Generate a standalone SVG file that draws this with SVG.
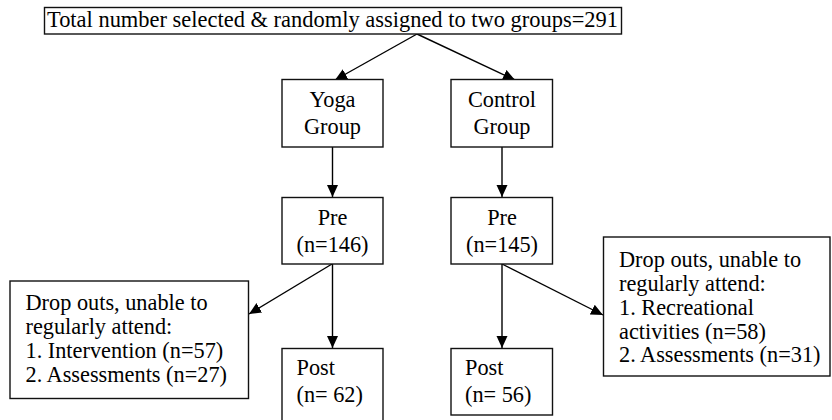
<svg xmlns="http://www.w3.org/2000/svg" width="832" height="420" viewBox="0 0 832 420">
<defs>
<style>
.box{fill:#fff;stroke:#111;stroke-width:1.4}
.ln{stroke:#000;stroke-width:1.4;fill:none}
</style>
<marker id="ah" markerUnits="userSpaceOnUse" markerWidth="12" markerHeight="12" viewBox="0 0 12 12" refX="12" refY="6" orient="auto">
<path d="M0,0.5 L12,6 L0,11.5 Z" fill="#000"/>
</marker>
</defs>
<rect width="832" height="420" fill="#fff"/>
<g id="connectors">
<line class="ln" x1="417" y1="34" x2="335" y2="80" marker-end="url(#ah)"/>
<line class="ln" x1="417" y1="34" x2="515" y2="80" marker-end="url(#ah)"/>
<line class="ln" x1="332.5" y1="147" x2="332.5" y2="197" marker-end="url(#ah)"/>
<line class="ln" x1="502" y1="147" x2="502" y2="197" marker-end="url(#ah)"/>
<line class="ln" x1="332.5" y1="264" x2="332.5" y2="348" marker-end="url(#ah)"/>
<line class="ln" x1="502" y1="264" x2="502" y2="348" marker-end="url(#ah)"/>
<line class="ln" x1="332" y1="264" x2="249" y2="314" marker-end="url(#ah)"/>
<line class="ln" x1="502" y1="264" x2="603" y2="315" marker-end="url(#ah)"/>
</g>
<g font-family="'Liberation Serif', 'DejaVu Serif', serif" font-size="22.3" fill="#000">
<g id="total">
<rect class="box" x="44.5" y="7.5" width="577" height="26.5"/>
<text x="47" y="27" textLength="571" lengthAdjust="spacingAndGlyphs">Total number selected &amp; randomly assigned to two groups=291</text>
</g>
<g id="yoga" text-anchor="middle">
<rect class="box" x="282" y="79.5" width="101" height="67.5"/>
<text x="332.5" y="107">Yoga</text>
<text x="332.5" y="133.5">Group</text>
</g>
<g id="control" text-anchor="middle">
<rect class="box" x="451" y="79.5" width="101.5" height="67.5"/>
<text x="502" y="107">Control</text>
<text x="502" y="133.5">Group</text>
</g>
<g id="pre-yoga" text-anchor="middle">
<rect class="box" x="282" y="197.5" width="101" height="66.5"/>
<text x="332.5" y="225">Pre</text>
<text x="332.5" y="251.5">(n=146)</text>
</g>
<g id="pre-control" text-anchor="middle">
<rect class="box" x="451" y="197.5" width="101.5" height="66.5"/>
<text x="502" y="225">Pre</text>
<text x="502" y="251.5">(n=145)</text>
</g>
<g id="post-yoga">
<rect class="box" x="282" y="348.5" width="101" height="75"/>
<text x="296.5" y="375">Post</text>
<text x="296.5" y="401.5">(n= 62)</text>
</g>
<g id="post-control">
<rect class="box" x="451" y="348.5" width="101.5" height="66.5"/>
<text x="465" y="375">Post</text>
<text x="465" y="401.5">(n= 56)</text>
</g>
<g id="dropout-yoga">
<rect class="box" x="10" y="281" width="238.5" height="117.5"/>
<text x="25.5" y="310">Drop outs, unable to</text>
<text x="25.5" y="334">regularly attend:</text>
<text x="25.5" y="357.5">1. Intervention (n=57)</text>
<text x="25.5" y="381.5">2. Assessments (n=27)</text>
</g>
<g id="dropout-control">
<rect class="box" x="603.5" y="237" width="226.5" height="139"/>
<text x="619" y="267">Drop outs, unable to</text>
<text x="619" y="291">regularly attend:</text>
<text x="619" y="314.5">1. Recreational</text>
<text x="619" y="338.5">activities (n=58)</text>
<text x="619" y="362">2. Assessments (n=31)</text>
</g>
</g>
</svg>
